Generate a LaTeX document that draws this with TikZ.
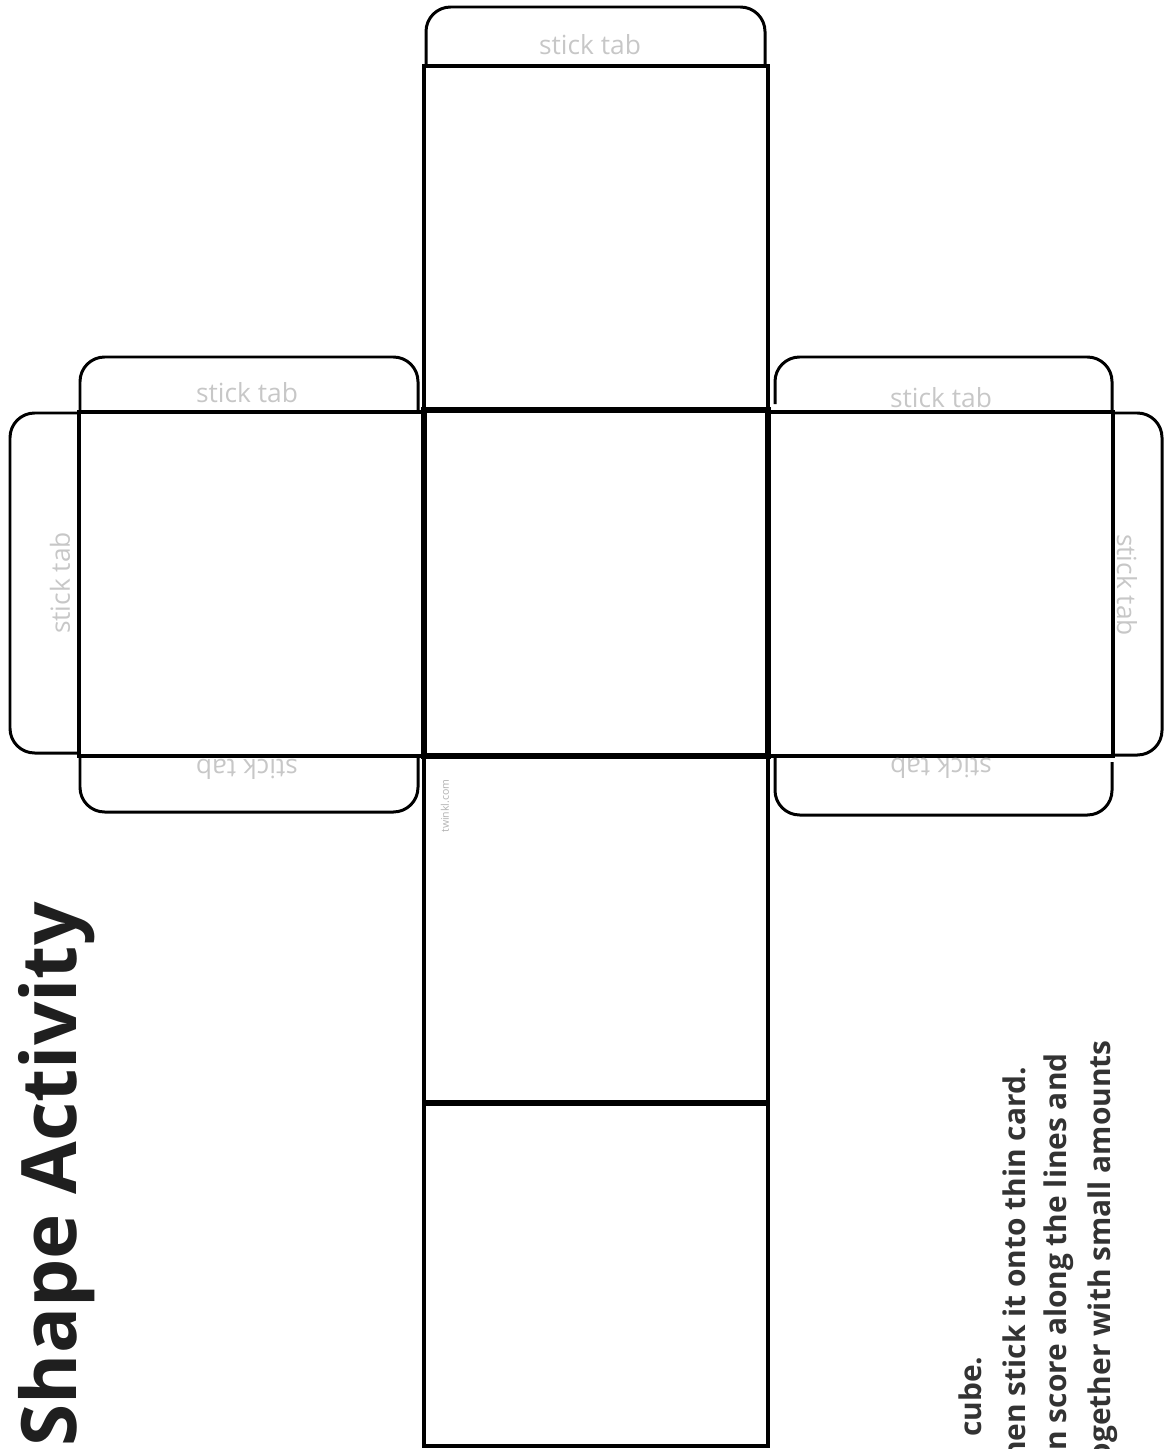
\documentclass[tikz,border=0pt]{standalone}
\usepackage{fontspec}
\setmainfont{Open Sans}

\begin{document}
\begin{tikzpicture}[x=0.02cm,y=-0.02cm,
    face/.style={line width=2.2pt},
    tab/.style={line width=1.7pt,rounded corners=14pt},
    tablabel/.style={inner sep=0pt,text=black!22,font=\fontsize{15}{18}\selectfont},
    howto/.style={rotate=90,anchor=base east,inner sep=0pt,text=black!80,font=\bfseries\fontsize{17}{20}\selectfont}]
	\useasboundingbox (0,0) rectangle (1163,1449);
	% faces
	\draw[face] (424,66) rectangle (768,410);
	\draw[face] (79,412) rectangle (424,756);
	\draw[face] (768,412) rectangle (1113,756);
	\draw[face] (424,756) rectangle (768,1103);
	\draw[face] (424,1103) rectangle (768,1446);
	\draw[line width=3.4pt] (424,410) rectangle (768,756);
	\draw[line width=3.8pt] (424,1103) -- (768,1103);
	% tabs
	\draw[tab] (426,66) -- (426,7) -- (765,7) -- (765,66);
	\draw[tab] (80,412) -- (80,357) -- (418,357) -- (418,412);
	\draw[tab] (80,756) -- (80,812) -- (418,812) -- (418,756);
	\draw[tab] (79,413) -- (10,413) -- (10,753) -- (79,753);
	\draw[tab] (775,404) -- (775,357) -- (1112,357) -- (1112,412);
	\draw[tab] (1112,762) -- (1112,815) -- (775,815) -- (775,758);
	\draw[tab] (1113,413) -- (1162,413) -- (1162,755) -- (1113,755);
	\node[tablabel] (ttop) at (590,45) {stick tab};
	\node[tablabel] (tlefttop) at (247,393) {stick tab};
	\node[tablabel] (trighttop) at (941,398) {stick tab};
	\node[tablabel,rotate=180] (tleftbot) at (247,769) {stick tab};
	\node[tablabel,rotate=180] (trightbot) at (941,768) {stick tab};
	\node[tablabel,rotate=90] (tleftside) at (60,583) {stick tab};
	\node[tablabel,rotate=-90] (trightside) at (1127,585) {stick tab};
	\node[rotate=90,inner sep=0pt,text=black!30,font=\fontsize{6}{7}\selectfont] (site) at (445,806) {twinkl.com};
	% text
	\node[rotate=90,anchor=base east,inner sep=0pt,text=black!88,font=\bfseries\fontsize{43.5}{50}\selectfont] (title) at (76,902) {Shape Activity};
	\node[howto,anchor=base west] (stepa) at (981,1437) {cube.};
	\node[howto] (stepb) at (1025,1067) {hen stick it onto thin card.};
	\node[howto] (stepc) at (1066,1053) {n score along the lines and};
	\node[howto] (stepd) at (1110,1040) {ogether with small amounts};
\end{tikzpicture}
\end{document}
